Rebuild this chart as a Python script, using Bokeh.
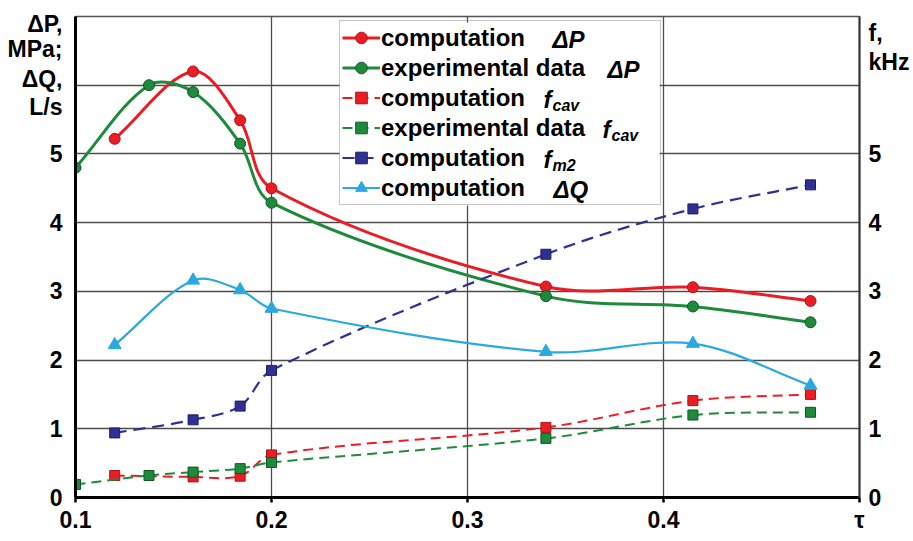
import numpy as np
from bokeh.plotting import figure
from bokeh.models import (Range1d, LinearAxis, FixedTicker, Legend, LegendItem, Label,
                          BoxAnnotation)
from bokeh.embed import file_html
from bokeh.resources import INLINE

# ---------------- data ----------------
tau_dp_calc = [0.12, 0.16, 0.184, 0.2, 0.34, 0.415, 0.475]
dp_calc = [5.22, 6.20, 5.49, 4.50, 3.07, 3.06, 2.86]

tau_dp_exp = [0.1, 0.1375, 0.16, 0.184, 0.2, 0.34, 0.415, 0.475]
dp_exp = [4.80, 6.00, 5.90, 5.15, 4.29, 2.93, 2.78, 2.55]

tau_fcav_calc = [0.12, 0.16, 0.184, 0.2, 0.34, 0.415, 0.475]
fcav_calc = [0.32, 0.30, 0.31, 0.62, 1.02, 1.41, 1.50]

tau_fcav_exp = [0.1, 0.1375, 0.16, 0.184, 0.2, 0.34, 0.415, 0.475]
fcav_exp = [0.19, 0.32, 0.37, 0.42, 0.51, 0.86, 1.20, 1.24]

tau_fm2 = [0.12, 0.16, 0.184, 0.2, 0.34, 0.415, 0.475]
fm2_calc = [0.94, 1.13, 1.33, 1.85, 3.54, 4.20, 4.55]

tau_dq = [0.12, 0.16, 0.184, 0.2, 0.34, 0.415, 0.475]
dq_calc = [2.22, 3.16, 3.02, 2.75, 2.12, 2.24, 1.63]

x_ticks = [0.1, 0.2, 0.3, 0.4, 0.5]
x_tick_labels = {0.5: "τ"}
y_ticks = [0, 1, 2, 3, 4, 5]
left_title = {6.886: "ΔP,", 6.52: "MPa;", 6.085: "ΔQ,", 5.677: "L/s"}
right_title = {6.753: "f,", 6.331: "kHz"}
legend_labels = ["computation", "experimental data", "computation",
                 "experimental data", "computation", "computation"]
# italic symbol part of each legend entry: (main symbol, subscript)
legend_symbols = [("ΔP", ""), ("ΔP", ""), ("f", "cav"), ("f", "cav"),
                  ("f", "m2"), ("ΔQ", "")]

# ---------------- layout ----------------
W, H = 913, 541
LEFT, RIGHT, TOP, BOTTOM = 75, 859, 16, 497      # frame edges in page pixels
FL, FR, FT, FB = LEFT, W - RIGHT, TOP, H - BOTTOM
FW, FH = RIGHT - LEFT, BOTTOM - TOP
X0, X1, Y0, Y1 = 0.1, 0.5, 0.0, 7.0
SX, SY = FW / (X1 - X0), FH / (Y1 - Y0)

RED, RED_D = "#ec1c24", "#a8151b"
GREEN, GREEN_D = "#1e8a3c", "#0e5a24"
NAVY, NAVY_D = "#2e3192", "#1a1c66"
CYAN = "#2aa9e0"
FONT = "Liberation Sans"


def dx(px):
    return X0 + (px - LEFT) / SX


def dy(py):
    return Y0 + (BOTTOM - py) / SY


p = figure(width=W, height=H, x_range=Range1d(X0, X1), y_range=Range1d(Y0, Y1),
           output_backend="svg", toolbar_location=None,
           min_border_left=FL, min_border_right=FR, min_border_top=FT,
           min_border_bottom=FB)
p.extra_y_ranges = {"f": Range1d(Y0, Y1)}
p.background_fill_color = "white"
p.border_fill_color = "white"
p.outline_line_color = "#555555"
p.outline_line_width = 1.5

# grid
p.xgrid.ticker = FixedTicker(ticks=[0.2, 0.3, 0.4])
p.ygrid.ticker = FixedTicker(ticks=[1, 2, 3, 4, 5, 6])
for g in (p.xgrid[0], p.ygrid[0]):
    g.grid_line_color = "#4d4d4d"
    g.grid_line_width = 1.3

# axes
xa = p.xaxis[0]
xa.ticker = FixedTicker(ticks=x_ticks)
xa.major_label_overrides = x_tick_labels
ya = p.yaxis[0]
ya.ticker = FixedTicker(ticks=y_ticks + list(left_title.keys()))
ya.major_label_overrides = left_title
for ax in (xa, ya):
    ax.axis_line_color = "black"
    ax.axis_line_width = 3
    ax.major_tick_line_color = "black"
    ax.major_tick_line_width = 2.5
    ax.major_tick_out = 5
    ax.major_tick_in = 0
    ax.minor_tick_out = 0
    ax.minor_tick_in = 0
    ax.major_label_text_font = FONT
    ax.major_label_text_font_style = "bold"
    ax.major_label_text_font_size = "23px"
    ax.major_label_text_color = "black"
ya.major_tick_out = 0
ya.major_label_standoff = 13
xa.major_label_standoff = 4

ra = LinearAxis(y_range_name="f",
                ticker=FixedTicker(ticks=y_ticks + list(right_title.keys())))
ra.major_label_overrides = right_title
ra.axis_line_color = "#333333"
ra.axis_line_width = 2
ra.major_tick_out = 0
ra.major_tick_in = 0
ra.minor_tick_out = 0
ra.minor_tick_in = 0
ra.major_label_standoff = 9
ra.major_label_text_font = FONT
ra.major_label_text_font_style = "bold"
ra.major_label_text_font_size = "23px"
ra.major_label_text_color = "black"
p.add_layout(ra, "right")


def smooth(xs, ys):
    """Bezier control points (Excel-like smoothing) computed in screen proportion."""
    X = np.asarray(xs, float) * SX
    Y = np.asarray(ys, float) * SY
    n = len(X)
    out = {k: [] for k in ("x0", "y0", "x1", "y1", "cx0", "cy0", "cx1", "cy1")}
    for i in range(n - 1):
        a = max(i - 1, 0)
        b = min(i + 2, n - 1)
        d01 = np.hypot(X[i] - X[a], Y[i] - Y[a])
        d12 = np.hypot(X[i + 1] - X[i], Y[i + 1] - Y[i])
        d23 = np.hypot(X[b] - X[i + 1], Y[b] - Y[i + 1])
        k1 = d12 / (d01 + d12) / 3.0
        k2 = d12 / (d12 + d23) / 3.0
        c0x = X[i] + (X[i + 1] - X[a]) * k1
        c0y = Y[i] + (Y[i + 1] - Y[a]) * k1
        c1x = X[i + 1] - (X[b] - X[i]) * k2
        c1y = Y[i + 1] - (Y[b] - Y[i]) * k2
        out["x0"].append(X[i] / SX); out["y0"].append(Y[i] / SY)
        out["x1"].append(X[i + 1] / SX); out["y1"].append(Y[i + 1] / SY)
        out["cx0"].append(c0x / SX); out["cy0"].append(c0y / SY)
        out["cx1"].append(c1x / SX); out["cy1"].append(c1y / SY)
    return out


series = [
    (tau_dp_calc, dp_calc, RED, RED_D, "circle", 11, "solid", 3),
    (tau_dp_exp, dp_exp, GREEN, GREEN_D, "circle", 11, "solid", 3),
    (tau_fcav_calc, fcav_calc, RED, RED_D, "square", 10, "10 6", 2),
    (tau_fcav_exp, fcav_exp, GREEN, GREEN_D, "square", 10, "10 6", 2),
    (tau_fm2, fm2_calc, NAVY, NAVY_D, "square", 10, "12 7", 2.2),
    (tau_dq, dq_calc, CYAN, CYAN, "triangle", 13, "solid", 2.2),
]

items = []
for (xs, ys, col, dcol, mk, sz, dash, lw), lab_text in zip(series, legend_labels):
    seg = smooth(xs, ys)
    r1 = p.bezier(line_color=col, line_width=lw, line_dash=dash, **seg)
    r2 = p.scatter(xs, ys, marker=mk, size=sz, fill_color=col, line_color=dcol,
                   line_width=1)
    items.append(LegendItem(label=lab_text, renderers=[r1, r2]))

# legend box geometry (page pixels)
L_LEFT, L_TOP = 339, 22
pad, lh, sp = 2, 29, 1
leg_h = 2 * pad + 6 * lh + 5 * sp
glyph_w, standoff, label_w = 38, 1, 277
L_RIGHT = L_LEFT + 2 * pad + glyph_w + standoff + label_w

# white backing for the (transparent) legend, so the italic symbols can sit inside it
p.add_layout(BoxAnnotation(left=dx(L_LEFT), right=dx(L_RIGHT), top=dy(L_TOP),
                           bottom=dy(L_TOP + leg_h), fill_color="white",
                           fill_alpha=1.0, line_alpha=0, level="annotation"))

legend = Legend(items=items, location=(L_LEFT - LEFT, BOTTOM - (L_TOP + leg_h)),
                padding=pad, spacing=sp, margin=0,
                label_height=lh, glyph_height=lh, glyph_width=glyph_w,
                label_standoff=standoff, label_width=label_w,
                label_text_font=FONT, label_text_font_style="bold",
                label_text_font_size="24px", label_text_color="black",
                border_line_color="#8c8c8c", border_line_width=1,
                background_fill_alpha=0.0)
p.add_layout(legend, "center")


def lab(text, rx, ry, size="24px", style="bold italic"):
    p.add_layout(Label(x=dx(rx), y=dy(ry), text=text, text_font=FONT,
                       text_font_style=style, text_font_size=size,
                       text_align="left", text_baseline="middle",
                       text_color="black", level="overlay"))


sym_x = [552, 607, 543, 602, 543, 553]
for i, ((sym, sub), sxp) in enumerate(zip(legend_symbols, sym_x)):
    row_y = L_TOP + pad + lh / 2 + i * (lh + sp)
    lab(sym, sxp, row_y)
    if sub:
        lab(sub, sxp + 9, row_y + 6, size="16px")

open("out.html", "w").write(file_html(p, INLINE))
